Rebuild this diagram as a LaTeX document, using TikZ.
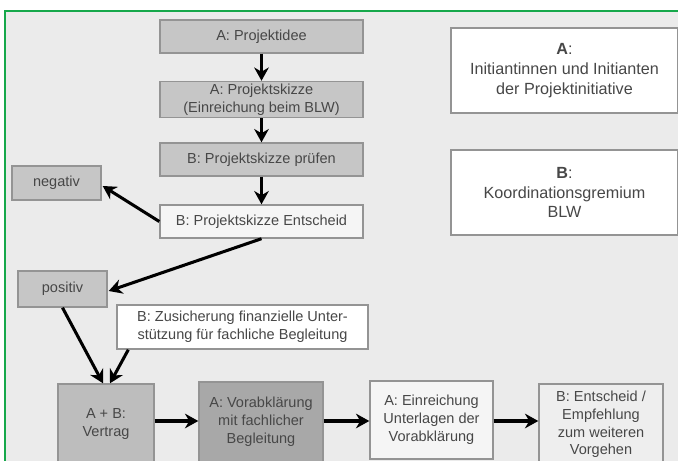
\documentclass[tikz,border=0pt]{standalone}
\usepackage{fontspec}
\setmainfont{Liberation Sans}
\usetikzlibrary{arrows.meta,calc}
\definecolor{bggray}{HTML}{EBEBEB}
\definecolor{boxgray}{HTML}{C6C6C6}
\definecolor{boxmid}{HTML}{BDBDBD}
\definecolor{boxdark}{HTML}{A8A8A8}
\definecolor{boxlite}{HTML}{F5F5F5}
\definecolor{boxpale}{HTML}{EEEEEE}
\definecolor{framegreen}{HTML}{16A84B}
\tikzset{
  >={Stealth[length=4mm,width=4.4mm]},
  boxbase/.style={draw=black!42,line width=1.2pt,align=center,inner sep=2pt,
    text=black!72,font=\fontsize{12.4}{15.2}\selectfont},
  graybox/.style={boxbase,fill=boxgray},
  litebox/.style={boxbase,fill=boxlite},
  colbox/.style={minimum width=6.09cm,minimum height=0.99cm},
  flow/.style={->,line width=2.6pt,black},
  legbox/.style={boxbase,fill=white,minimum width=6.81cm,minimum height=2.55cm,
    font=\fontsize{13.8}{17}\selectfont},
}

\begin{document}
\begin{tikzpicture}[x=0.03cm,y=-0.03cm]
  \useasboundingbox (0,0) rectangle (678,461);
  \fill[bggray] (5,11) rectangle (678,461);
  \draw[framegreen,line width=1.8pt] (5,461) -- (5,11) -- (678,11);
  % main column
  \node[graybox,colbox] (idee) at (261.5,36.5) {A: Projektidee};
  \node[graybox,colbox,minimum height=1.05cm] (skizze) at (261.5,99.5)
    {A: Projektskizze\\(Einreichung beim BLW)};
  \node[graybox,colbox] (pruef) at (261.5,159.5) {B: Projektskizze prüfen};
  \node[litebox,colbox] (entsch) at (261.5,221.5) {B: Projektskizze Entscheid};
  \node[graybox,minimum width=2.67cm,minimum height=1.02cm] (neg) at (56.5,183) {negativ};
  \node[graybox,minimum width=2.67cm,minimum height=1.08cm] (pos) at (62.5,289) {positiv};
  \node[boxbase,fill=white,minimum width=7.53cm,minimum height=1.32cm] (zusich) at (242.5,327)
    {B: Zusicherung finanzielle Unter-\\stützung für fachliche Begleitung};
  % bottom row
  \node[boxbase,fill=boxmid,minimum width=2.88cm,minimum height=2.4cm] (vertrag) at (106,424)
    {A + B:\\Vertrag};
  \node[boxbase,fill=boxdark,minimum width=3.72cm,minimum height=2.4cm] (vorab) at (261,422)
    {A: Vorabklärung\\mit fachlicher\\Begleitung};
  \node[litebox,minimum width=3.69cm,minimum height=2.34cm] (einr) at (431.5,420)
    {A: Einreichung\\Unterlagen der\\Vorabklärung};
  \node[boxbase,fill=boxpale,minimum width=3.72cm,minimum height=2.43cm] (empf) at (601,424.5)
    {B: Entscheid /\\Empfehlung\\zum weiteren\\Vorgehen};
  % legend
  \node[legbox] (legA) at (564.5,70.5) {\textbf{A}:\\Initiantinnen und Initianten\\der Projektinitiative};
  \node[legbox] (legB) at (564.5,192.5) {\textbf{B}:\\Koordinationsgremium\\BLW};
  % arrows
  \draw[flow] (idee) -- (skizze);
  \draw[flow] (skizze) -- (pruef);
  \draw[flow] (pruef) -- (entsch);
  \draw[flow] (entsch.west) -- ($(neg.east)+(1,3)$);
  \draw[flow] (entsch.south) -- ($(pos.east)+(1,2)$);
  \draw[flow] (pos.south) -- ($(vertrag.north)+(-3,0)$);
  \draw[flow] ($(zusich.south west)+(12,0)$) -- ($(vertrag.north)+(4,0)$);
  \draw[flow] (vertrag.east |- 0,421) -- (vorab.west |- 0,421);
  \draw[flow] (vorab.east |- 0,421) -- (einr.west |- 0,421);
  \draw[flow] (einr.east |- 0,421) -- (empf.west |- 0,421);
\end{tikzpicture}
\end{document}
